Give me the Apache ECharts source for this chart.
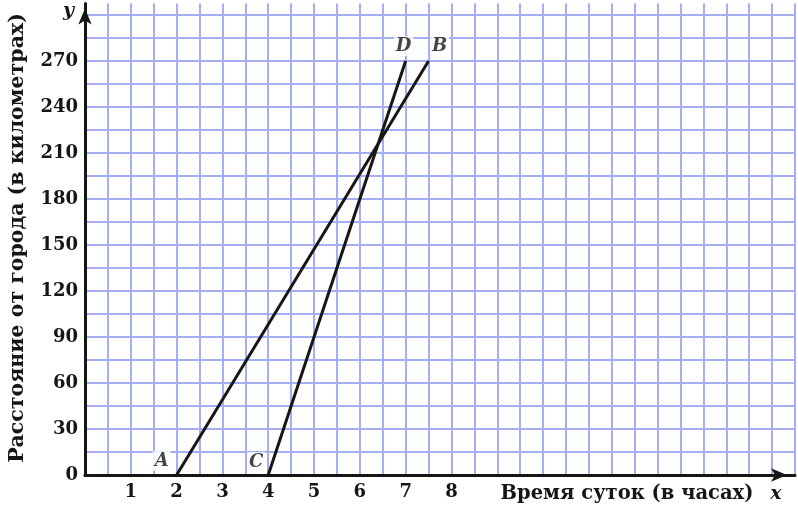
<!DOCTYPE html>
<html>
<head>
<meta charset="utf-8">
<script src="https://cdn.jsdelivr.net/npm/echarts@6/dist/echarts.min.js"></script>
<style>
  html, body { margin: 0; padding: 0; background: #fff; }
  #chart { width: 798px; height: 505px; }
</style>
</head>
<body>
<div id="chart"></div>
<script>
// Two trips: hours of the day against distance from the town
const routeAB = [[2, 0], [7.5, 270]];
const routeCD = [[4, 0], [7, 270]];
const pointNames = ['A', 'B', 'C', 'D'];
const pointCoords = [routeAB[0], routeAB[1], routeCD[0], routeCD[1]];
const xTickLabels = [1, 2, 3, 4, 5, 6, 7, 8];
const yTickLabels = [0, 30, 60, 90, 120, 150, 180, 210, 240, 270];

const serif = 'DejaVu Serif';
const ink = '#161616';
const gridBlue = '#a4aef2';

// where each letter sits relative to its point
const labelOffsets = { A: [-15, -14], B: [11, -15], C: [-12, -13], D: [-2, -15] };

const chart = echarts.init(document.getElementById('chart'), null, { renderer: 'canvas' });

chart.setOption({
  backgroundColor: '#ffffff',
  animation: false,
  grid: { left: 85, right: 0, top: 3.5, bottom: 30 },
  xAxis: {
    type: 'value', min: 0, max: 15.5, interval: 0.5,
    axisLine: { show: true, onZero: false, symbol: ['none', 'arrow'], symbolSize: [10, 16], symbolOffset: [0, -8],
      lineStyle: { color: ink, width: 3 } },
    axisTick: { show: false },
    splitLine: { show: true, lineStyle: { color: gridBlue, width: 2 } },
    axisLabel: {
      margin: 8, color: ink, fontFamily: serif, fontSize: 18, fontWeight: 'bold',
      formatter: v => xTickLabels.includes(v) ? String(v) : ''
    }
  },
  yAxis: {
    type: 'value', min: 0, max: 307.5, interval: 15,
    axisLine: { show: true, onZero: false, symbol: ['none', 'arrow'], symbolSize: [10, 16], symbolOffset: [0, -5],
      lineStyle: { color: ink, width: 3 } },
    axisTick: { show: false },
    splitLine: { show: true, showMaxLine: false, lineStyle: { color: gridBlue, width: 2 } },
    axisLabel: {
      margin: 7, color: ink, fontFamily: serif, fontSize: 18, fontWeight: 'bold',
      formatter: v => yTickLabels.includes(v) ? String(v) : ''
    }
  },
  series: [
    { type: 'line', data: routeAB, symbol: 'none', lineStyle: { color: ink, width: 3 }, z: 5 },
    { type: 'line', data: routeCD, symbol: 'none', lineStyle: { color: ink, width: 3 }, z: 5 },
    {
      type: 'scatter', symbolSize: 1, itemStyle: { color: 'rgba(0,0,0,0)' }, z: 6,
      data: pointNames.map((n, i) => ({
        value: pointCoords[i],
        label: {
          show: true, formatter: n, position: 'inside', offset: labelOffsets[n],
          fontFamily: serif, fontStyle: 'italic', fontWeight: 'bold', fontSize: 18, color: ink,
          backgroundColor: '#fff', padding: [1, 2]
        }
      }))
    }
  ],
  graphic: [
    { type: 'text', left: 63, top: 2, z: 10,
      style: { text: 'y', fontFamily: serif, fontStyle: 'italic', fontWeight: 'bold', fontSize: 19, fill: ink } },
    { type: 'text', x: 776, y: 494, z: 10,
      style: { text: 'x', fontFamily: serif, fontStyle: 'italic', fontWeight: 'bold', fontSize: 19, fill: ink,
        align: 'center', verticalAlign: 'middle', backgroundColor: '#fff', padding: [0, 3] } },
    { type: 'text', x: 627, y: 494, z: 10,
      style: { text: 'Время суток (в часах)', fontFamily: serif, fontWeight: 'bold', fontSize: 19.5, fill: ink,
        align: 'center', verticalAlign: 'middle' } },
    { type: 'text', x: 18, y: 238, rotation: Math.PI / 2, z: 10,
      style: { text: 'Расстояние от города (в километрах)', fontFamily: serif, fontWeight: 'bold', fontSize: 20.5, fill: ink,
        align: 'center', verticalAlign: 'middle' } }
  ]
});
</script>
</body>
</html>
